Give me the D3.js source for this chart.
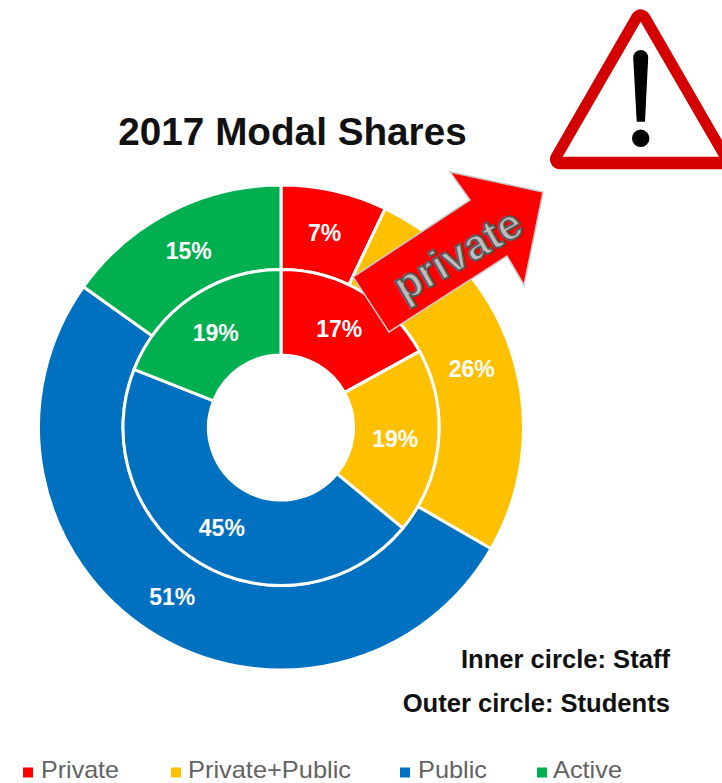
<!DOCTYPE html>
<html><head><meta charset="utf-8">
<script src="https://cdn.jsdelivr.net/npm/d3@7"></script>
<style>html,body{margin:0;padding:0;background:#fff}svg{display:block}text{font-family:"Liberation Sans",Arial,sans-serif}</style>
</head><body><svg id="c" width="722" height="783"></svg>
<script>
const categories=["Private","Private+Public","Public","Active"];
const studentShares=[7,26,51,15];
const staffShares=[17,19,45,19];
const colors=["#FF0000","#FFC000","#0070C0","#00B050"];
const legendSwatchX=[23,171,400,537];
const legendTextX=[41,188,418,553];
const legendTextWidth=[78,163,69,69];

const svg=d3.select("#c");
const cx=281,cy=427.5;
const color=d3.scaleOrdinal(categories,colors);
const pie=d3.pie().sort(null);
function ring(values,r0,r1,cls){
  const arc=d3.arc().innerRadius(r0).outerRadius(r1);
  const g=svg.append("g").attr("class",cls).attr("transform",`translate(${cx},${cy})`);
  const arcs=pie(values);
  g.selectAll("path").data(arcs).join("path")
    .attr("d",arc).attr("fill",(d,i)=>color(categories[i]))
    .attr("stroke","#fff").attr("stroke-width",3);
  g.selectAll("text").data(arcs).join("text")
    .attr("transform",d=>{const c=arc.centroid(d);return `translate(${c[0]-0.5},${c[1]+1})`;})
    .attr("text-anchor","middle").attr("dy","0.35em")
    .attr("font-size",23).attr("font-weight","bold").attr("fill","#fff")
    .text(d=>d.data+"%");
}
ring(studentShares,158,242.5,"outer");
ring(staffShares,72.5,158,"inner");

svg.append("text").attr("x",292.5).attr("y",144.5).attr("text-anchor","middle")
  .attr("font-size",38.7).attr("font-weight","bold").attr("fill","#111").text("2017 Modal Shares");

// arrow annotation
svg.append("polygon")
  .attr("points","353,277 470,200 450,172 543,192 524,285 507,256 389,332")
  .attr("fill","#FF0000").attr("stroke","#c8c8c8").attr("stroke-width",1.5);
svg.append("text").attr("transform","translate(458.5,256) rotate(-30)")
  .attr("text-anchor","middle").attr("dy","0.3em")
  .attr("font-size",43).attr("font-weight","bold").attr("fill","#bdbdbd").attr("stroke","#595959").attr("stroke-width",2)
  .text("private");

// warning sign
const w=svg.append("g");
w.append("polygon").attr("points","640.7,19.3 560,159.3 721.4,159.3")
  .attr("fill","#D40000").attr("stroke","#D40000").attr("stroke-width",20).attr("stroke-linejoin","round");
w.append("polygon").attr("points","640.7,21.7 562.7,156.7 719,156.7").attr("fill","#fff");
w.append("path").attr("d","M633.2,57.5 A7.5,7.5 0 0 1 648.2,57.5 L645,121.7 L636.7,121.7 Z").attr("fill","#000");
w.append("circle").attr("cx",640.7).attr("cy",138.3).attr("r",8.7).attr("fill","#000");

// notes
svg.append("text").attr("x",670).attr("y",668).attr("text-anchor","end")
  .attr("font-size",25.6).attr("font-weight","bold").attr("fill","#111").text("Inner circle: Staff");
svg.append("text").attr("x",670).attr("y",711.5).attr("text-anchor","end")
  .attr("font-size",25.6).attr("font-weight","bold").attr("fill","#111").text("Outer circle: Students");

// legend
const lg=svg.append("g").selectAll("g").data(categories).join("g");
lg.append("rect").attr("x",(d,i)=>legendSwatchX[i]).attr("y",767.5).attr("width",10).attr("height",10)
  .attr("fill",d=>color(d));
lg.append("text").attr("x",(d,i)=>legendTextX[i]).attr("y",778)
  .attr("font-size",24).attr("fill","#636363")
  .attr("textLength",(d,i)=>legendTextWidth[i]).attr("lengthAdjust","spacingAndGlyphs")
  .text(d=>d);
</script></body></html>
